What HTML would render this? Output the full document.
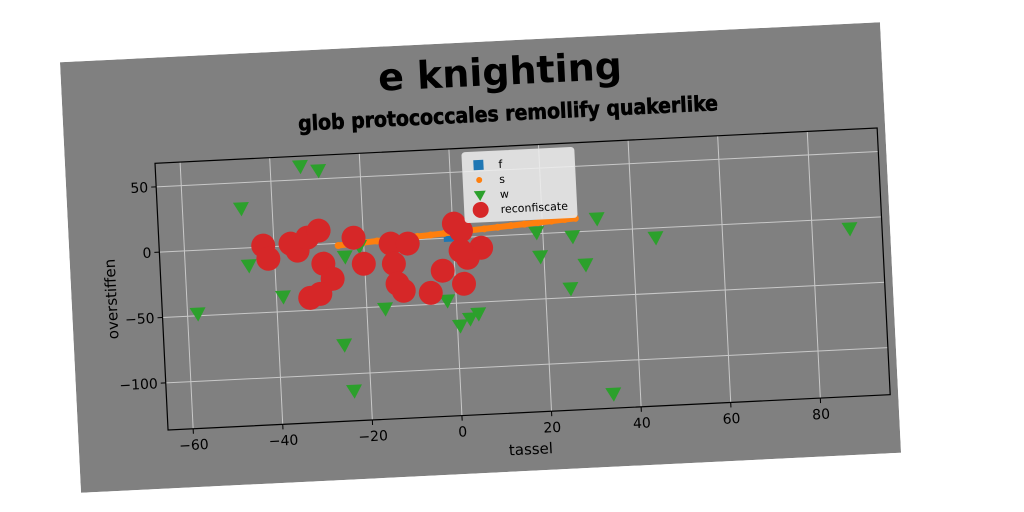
<!DOCTYPE html>
<html><head><meta charset="utf-8"><style>
html,body{margin:0;padding:0;background:#fff;width:1024px;height:512px;overflow:hidden;}
#fig{position:absolute;left:70px;top:42px;width:821px;height:431px;transform:rotate(-2.8deg);transform-origin:50% 50%;}
text{font-family:"DejaVu Sans","Liberation Sans",sans-serif;}
</style></head><body>
<div id="fig">
<svg id="svg" width="821" height="431" xmlns="http://www.w3.org/2000/svg">
<rect x="0" y="0" width="821" height="431" fill="#808080"/>
<text x="439" y="44" text-anchor="middle" font-size="38" font-weight="bold" fill="#000">e knighting</text>
<text x="445" y="80" text-anchor="middle" font-size="21" font-weight="bold" font-family="'Liberation Sans Narrow','Liberation Sans',sans-serif" style="font-stretch:condensed" stroke="#000" stroke-width="0.6" fill="#000">glob protococcales remollify quakerlike</text>
<g id="plot"></g>
</svg>
</div>
<script>
const xTicks=[-60,-40,-20,0,20,40,60,80];
const yTicks=[50,0,-50,-100];
const fX=[-1,0,1];
const fY=[1,2,3];
const sX=[-25.7,-23,-20,-17,-14,-11,-8,-5,-2,1,4,7,10,13,16,19,22,25,27.4];
const sY=[-1.6,-0.9,-0.3,0.4,1.0,1.7,2.4,3.0,3.7,4.4,5.1,5.7,6.4,7.1,7.8,8.4,9.1,9.8,10.3];
const wX=[-33.3,-29.3,-46.9,-45.8,-57.7,-38.5,-25.4,-23.7,-15.9,0.6,2.9,4.8,-2,18.6,19.2,26.6,29.2,32.2,25.6,45.1,88.4,34,-24.3,-21];
const wY=[60.3,56.5,30.4,-13.5,-48.3,-38.5,-77.6,-113,-51.5,-67.3,-62.3,-58.8,-47.7,1,-17.5,-3.4,-25.3,9.4,-43,-7.3,-7.7,-125,-10.3,-3];
const rX=[-42.4,-41.4,-36.3,-34.8,-32.5,-29.9,-29.2,-27.3,-32.5,-30.2,-22.2,-20.2,-14,-10.2,-13.5,-12.9,-11.6,-5.6,-2.7,1.9,0.3,1.8,6.1,3,1.5];
const rY=[1.1,-9.1,1.6,-4,5.6,10.5,-14.9,-26.8,-40.5,-37.8,3.8,-16.5,-2.1,-2.7,-17.6,-33,-38.6,-41.2,-24.7,-35.5,10.8,5.2,-8.6,-15.8,-10.1];
const AX=90,AY=105.5,AW=723,AH=267;
const XMIN=-65.6,XMAX=95.6,YMIN=-136,YMAX=68;
const sx=v=>AX+(v-XMIN)/(XMAX-XMIN)*AW;
const sy=v=>AY+(YMAX-v)/(YMAX-YMIN)*AH;
const NS="http://www.w3.org/2000/svg";
const g=document.getElementById('plot');
function mk(t,a,p){const e=document.createElementNS(NS,t);for(const k in a)e.setAttribute(k,a[k]);(p||g).appendChild(e);return e;}
let e;
e=mk('rect',{x:AX,y:AY,width:AW,height:AH,fill:'#808080'});


xTicks.forEach(t=>{
 e=mk('line',{x1:sx(t),x2:sx(t),y1:AY,y2:AY+AH,stroke:'#c8c8c8','stroke-width':1});
 
 
 mk('line',{x1:sx(t),x2:sx(t),y1:AY+AH,y2:AY+AH+5,stroke:'#000'});
 e=mk('text',{x:sx(t),y:AY+AH+21,'text-anchor':'middle','font-size':14,fill:'#000'});
 e.textContent=(t<0?'\u2212'+(-t):t);
 
 
});
yTicks.forEach(t=>{
 e=mk('line',{x1:AX,x2:AX+AW,y1:sy(t),y2:sy(t),stroke:'#c8c8c8','stroke-width':1});
 
 
 mk('line',{x1:AX-5,x2:AX,y1:sy(t),y2:sy(t),stroke:'#000'});
 e=mk('text',{x:AX-8,y:sy(t)+5,'text-anchor':'end','font-size':14,fill:'#000'});
 e.textContent=(t<0?'\u2212'+(-t):t);
 
 
});
fX.forEach((x,i)=>{
 e=mk('rect',{x:sx(x)-5,y:sy(fY[i])-5,width:10,height:10,fill:'#1f77b4'});
 
 
});
sX.forEach((x,i)=>{
 e=mk('circle',{cx:sx(x),cy:sy(sY[i]),r:3.5,fill:'#ff7f0e'});
 
 
});
for(let i=0;i<sX.length-1;i++){
 mk('line',{x1:sx(sX[i]),y1:sy(sY[i]),x2:sx(sX[i+1]),y2:sy(sY[i+1]),stroke:'#ff7f0e','stroke-width':6});
}
wX.forEach((x,i)=>{
 const cx=sx(x),cy=sy(wY[i]);
 e=mk('polygon',{points:`${cx-8},${cy-6} ${cx+8},${cy-6} ${cx},${cy+8}`,fill:'#2ca02c'});
 
 
});
rX.forEach((x,i)=>{
 e=mk('circle',{cx:sx(x),cy:sy(rY[i]),r:12,fill:'#d62728'});
 
 
});
e=mk('rect',{x:AX,y:AY,width:AW,height:AH,fill:'none',stroke:'#000','stroke-width':1.2});


e=mk('text',{x:AX+AW/2,y:AY+AH+42,'text-anchor':'middle','font-size':15,fill:'#000'});
e.textContent='tassel';


e=mk('text',{x:0,y:0,'text-anchor':'middle','font-size':15,fill:'#000',transform:`translate(${AX-45},${AY+AH/2}) rotate(-90)`});
e.textContent='overstiffen';


const lg=mk('g',{});


mk('rect',{x:397,y:110,width:112,height:70,rx:3,fill:'#eeeeee','fill-opacity':0.85,stroke:'#dddddd'},lg);
const L=[['f','sq'],['s','dot'],['w','tri'],['reconfiscate','circ']];
L.forEach((it,i)=>{
 const cy=123+i*15, cx=413;
 if(it[1]=='sq')mk('rect',{x:cx-5,y:cy-5,width:10,height:10,fill:'#1f77b4'},lg);
 if(it[1]=='dot')mk('circle',{cx:cx,cy:cy,r:3,fill:'#ff7f0e'},lg);
 if(it[1]=='tri')mk('polygon',{points:`${cx-6},${cy-4} ${cx+6},${cy-4} ${cx},${cy+6}`,fill:'#2ca02c'},lg);
 if(it[1]=='circ')mk('circle',{cx:cx,cy:cy,r:8,fill:'#d62728'},lg);
 e=mk('text',{x:433,y:cy+4,'font-size':11,fill:'#000'},lg);
 e.textContent=it[0];
 
 
});
</script>
</body></html>
